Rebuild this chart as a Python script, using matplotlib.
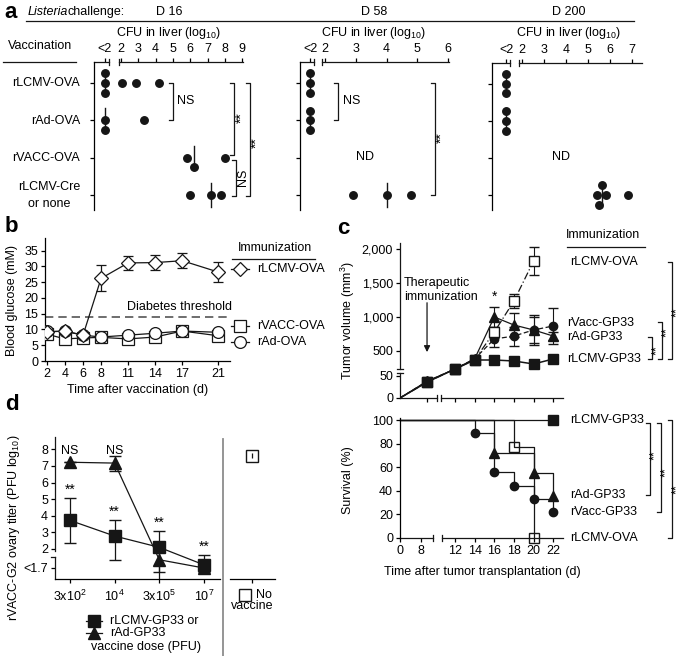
import numpy as np
import matplotlib
matplotlib.use("Agg")
import matplotlib.pyplot as plt
from matplotlib.lines import Line2D

plt.rcParams["font.family"] = ["Liberation Sans", "DejaVu Sans"]
plt.rcParams["font.size"] = 9
plt.rcParams["mathtext.fontset"] = "custom"
plt.rcParams["mathtext.rm"] = "Liberation Sans"
plt.rcParams["mathtext.it"] = "Liberation Sans:italic"
plt.rcParams["axes.linewidth"] = 0.9
plt.rcParams["xtick.major.width"] = 0.9
plt.rcParams["ytick.major.width"] = 0.9
plt.rcParams["xtick.major.size"] = 3
plt.rcParams["ytick.major.size"] = 3

# ---------------- data ----------------
# panel a: Listeria CFU in liver (log10); "<2" = below detection
a_rows = ["rLCMV-OVA", "rAd-OVA", "rVACC-OVA", "rLCMV-Cre\nor none"]
a_days = ["D 16", "D 58", "D 200"]
a_d16 = [["<2", "<2", "<2", 2.05, 2.85, 4.2], ["<2", "<2", 3.35], [5.8, 6.2, 8.0], [6.0, 7.2, 7.8]]
a_d58 = [["<2", "<2", "<2"], ["<2", "<2", "<2"], [], [2.9, 4.0, 4.8]]
a_d200 = [["<2", "<2", "<2"], ["<2", "<2", "<2"], [], [5.4, 5.5, 5.65, 5.8, 6.8]]

# panel b: blood glucose (mM)
b_days = [2, 4, 6, 8, 11, 14, 17, 21]
b_lcmv_ova = [9.2, 9.5, 8.2, 26.2, 31.1, 31.2, 31.8, 28.2]
b_lcmv_ova_err = [0.6, 0.6, 0.6, 4.1, 2.2, 2.5, 2.3, 3.2]
b_vacc_ova = [8.5, 7.0, 7.3, 7.5, 7.0, 7.6, 9.5, 8.0]
b_ad_ova = [9.4, 9.4, 8.2, 7.6, 8.2, 8.8, 9.5, 9.1]
b_threshold = 14

# panel c: tumor volume (mm3)
c_days = [0, 8, 12, 14, 16, 18, 20, 22]
c_lcmv_gp33 = [0, 36, 176, 338, 338, 320, 266, 356]
c_lcmv_gp33_err = [0, 8, 15, 15, 15, 15, 15, 15]
c_lcmv_ova = [0, 36, 176, 345, 779, 1235, 1823]
c_lcmv_ova_err = [0, 8, 15, 30, 70, 100, 200]
c_ad_gp33 = [0, 38, 176, 360, 1000, 882, 809, 720]
c_ad_gp33_err = [0, 8, 15, 30, 147, 177, 220, 60]
c_vacc_gp33 = [0, 38, 176, 360, 676, 720, 809, 868]
c_vacc_gp33_err = [0, 8, 15, 30, 110, 140, 190, 270]

# panel c: survival (%)
s_lcmv_gp33_days, s_lcmv_gp33 = [0, 22], [100, 100]
s_vacc_days, s_vacc = [0, 14, 16, 18, 20, 22], [100, 89, 56, 44, 33, 22]
s_ad_days, s_ad = [0, 16, 20, 22], [100, 72, 55, 36]
s_ova_days, s_ova = [0, 18, 20], [100, 77, 0]

# panel d: rVACC-G2 ovary titer (PFU log10)
d_doses = ["3x10$^2$", "10$^4$", "3x10$^5$", "10$^7$"]
d_lcmv = [3.72, 2.78, 2.1, 1.75]
d_lcmv_err = [1.33, 0.95, 1.0, 0.15]
d_ad = [7.22, 7.17, 1.83, 1.7]
d_ad_err = [0, 0.45, 0.23, 0]
d_none, d_none_err = 7.6, 0.15
d_sig_lcmv = ["**", "**", "**", "**"]
d_sig_ad = ["NS", "NS", "", ""]

K = "#161616"
STAR = 10
W, H = 685, 656
fig = plt.figure(figsize=(W / 100, H / 100), dpi=100)


def ax_box(l, t, r, b):
    return fig.add_axes([l / W, 1 - b / H, (r - l) / W, (b - t) / H])


def fline(xs, ys, **kw):
    kw.setdefault("color", K)
    kw.setdefault("lw", 0.9)
    fig.add_artist(Line2D(np.asarray(xs, float) / W, 1 - np.asarray(ys, float) / H, **kw))


def ftext(x, y, s, **kw):
    kw.setdefault("ha", "center")
    kw.setdefault("va", "center")
    fig.text(x / W, 1 - y / H, s, **kw)


def apx(ax, xs, ys, **kw):
    # line in pixels relative to the axes' lower-left corner
    bb = ax.get_position()
    kw.setdefault("color", K)
    kw.setdefault("lw", 0.9)
    ax.plot(np.asarray(xs, float) / (bb.width * W), np.asarray(ys, float) / (bb.height * H),
            transform=ax.transAxes, clip_on=False, **kw)


def bracket(x, y0, y1, arm=4):
    fline([x - arm, x, x, x - arm], [y0, y0, y1, y1])


def interp_scale(a, b):
    a, b = np.asarray(a, float), np.asarray(b, float)
    return (lambda v: np.interp(v, a, b), lambda p: np.interp(p, b, a))


# ---------------- panel a ----------------
ftext(11, 13, "a", fontsize=16, fontweight="bold")
ftext(28, 12, "Listeria", ha="left", style="italic")
ftext(68, 12, "challenge:", ha="left")
fline([26, 634], [21, 21])
ftext(40, 46, "Vaccination")
fline([3, 76], [62, 62])
for j, lab in enumerate(a_rows):
    yy = 83 + 37.5 * j
    ftext(80, yy, lab, ha="right", multialignment="center", linespacing=1.5)

a_cols = [
    # data, left, right, top, px of "2", px per unit, px of "<2", ticks, break gap, title x
    (a_d16, 94, 243, 62, 121, 17.3, 105, range(2, 10), (15, 25), 169),
    (a_d58, 300, 449, 62, 325, 30.75, 310, range(2, 7), (14, 22), 374),
    (a_d200, 492, 642, 63, 522, 22.0, 506, range(2, 8), (18, 27), 569),
]
for k, (data, l, r, t, p2, pu, plod, ticks, gap, cx) in enumerate(a_cols):
    ax = ax_box(l, t, r, 210)
    ax.set_xlim(2 - (p2 - l) / pu, 2 + (r - p2) / pu)
    ax.set_ylim(3.4, -0.56)
    lod = 2 - (p2 - plod) / pu
    for s in ["top", "right", "bottom"]:
        ax.spines[s].set_visible(False)
    ax.set_yticks(range(4))
    ax.set_yticklabels([])
    ax.tick_params(axis="x", top=True, bottom=False, labeltop=True, labelbottom=False, pad=2)
    ax.set_xticks([lod] + list(ticks))
    ax.set_xticklabels(["<2"] + [str(v) for v in ticks])
    w, h = r - l, 210 - t
    apx(ax, [0, gap[0]], [h, h])
    apx(ax, [gap[1], w], [h, h])
    apx(ax, [gap[0], gap[0]], [h - 3, h + 3])
    apx(ax, [gap[1], gap[1]], [h - 3, h + 3])
    ftext(cx, 12, a_days[k])
    ftext(cx, 33, "CFU in liver (log$_{10}$)")
    for j, vals in enumerate(data):
        xs = [lod if v == "<2" else v for v in vals]
        placed = []
        for x in xs:
            xp = ax.transData.transform((x, 0))[0]
            for slot in [0, 1, -1, 2, -2]:
                if all(abs(xp - q) >= 7.5 or slot != sq for q, sq in placed):
                    break
            placed.append((xp, slot))
            ax.plot(x, j + slot * 0.26, "o", ms=5.4, color=K, mec=K, clip_on=False, zorder=3)
        if xs:
            med = sorted(xs)[(len(xs) - 1) // 2]
            ax.plot([med, med], [j - 0.32, j + 0.32], color=K, lw=1, zorder=2)

ftext(365, 157, "ND")
ftext(561, 157, "ND")
# D16 statistics
bracket(173, 83, 120)
ftext(177, 101, "NS", ha="left")
bracket(234, 83, 155)
ftext(242, 118, "**", rotation=90, fontsize=STAR)
bracket(236, 160, 196)
ftext(243, 177, "NS", rotation=90)
bracket(250, 83, 196)
ftext(257, 143, "**", rotation=90, fontsize=STAR)
# D58 statistics
bracket(338, 83, 120)
ftext(343, 101, "NS", ha="left")
bracket(435, 83, 195)
ftext(442, 138, "**", rotation=90, fontsize=STAR)

# ---------------- panel b ----------------
ftext(11, 226, "b", fontsize=16, fontweight="bold")
axb = ax_box(45, 238, 230, 361)
axb.set_xlim(1.78, 22.3)
axb.set_ylim(0, 39)
for s in ["top", "right"]:
    axb.spines[s].set_visible(False)
axb.set_xticks(b_days)
axb.set_yticks(range(0, 36, 5))
axb.tick_params(pad=2)
axb.axhline(b_threshold, color="#555555", lw=1.2, ls=(0, (5, 3)), zorder=1)
axb.errorbar(b_days, b_vacc_ova, color=K, lw=0.9, marker="s", ms=8, mfc="white", mec=K,
             mew=0.9, zorder=3)
axb.errorbar(b_days, b_ad_ova, color=K, lw=0.9, marker="o", ms=8.5, mfc="white", mec=K,
             mew=0.9, zorder=4)
axb.errorbar(b_days, b_lcmv_ova, yerr=b_lcmv_ova_err, color=K, lw=0.9, marker="D", ms=7.5,
             mfc="white", mec=K, mew=0.9, capsize=3.5, elinewidth=0.9, zorder=5)
ftext(12, 300, "Blood glucose (mM)", rotation=90)
ftext(138, 390, "Time after vaccination (d)")
ftext(179, 307, "Diabetes threshold")
ftext(275, 248, "Immunization")
fline([232, 315], [259, 259])
for yy, mk, ms, lab in [(269, "D", 7.5, "rLCMV-OVA"), (326, "s", 8, "rVACC-OVA"),
                        (342, "o", 8.5, "rAd-OVA")]:
    fline([231, 249], [yy, yy])
    fline([240], [yy], marker=mk, ms=ms, mfc="white", mec=K, mew=0.9)
    ftext(257, yy, lab, ha="left")

# ---------------- panel c (tumor volume) ----------------
ftext(343, 228, "c", fontsize=16, fontweight="bold")
axc = ax_box(400, 243, 563, 398)
axc.set_xscale("function", functions=interp_scale([-10, 0, 8, 12, 22, 40],
                                                  [-26, 0, 27, 55, 153, 329.4]))
axc.set_yscale("function", functions=interp_scale([-1000, 0, 50, 500, 2000, 5000],
                                                  [-440, 0, 22, 47, 149, 353]))
axc.set_xlim(0, 23.0)
axc.set_ylim(0, 2088)
for s in axc.spines.values():
    s.set_visible(False)
axc.set_xticks([8, 12, 14, 16, 18, 20, 22])
axc.set_xticklabels([])
axc.set_yticks([0, 50, 500, 1000, 1500, 2000])
axc.set_yticklabels(["0", "50", "500", "1,000", "1,500", "2,000"])
axc.tick_params(pad=2)
apx(axc, [0, 0], [0, 25])
apx(axc, [0, 0], [29, 155])
apx(axc, [-3, 3], [25, 25])
apx(axc, [-3, 3], [29, 29])
apx(axc, [0, 37], [0, 0])
apx(axc, [41, 163], [0, 0])
apx(axc, [37, 37], [-3, 3])
apx(axc, [41, 41], [-3, 3])

axc.plot(c_days[:7], c_lcmv_ova, color=K, lw=0.9, ls=(0, (6, 2, 1, 2)), zorder=2)
axc.plot(c_days, c_ad_gp33, color=K, lw=0.9, zorder=2)
axc.plot(c_days, c_vacc_gp33, color=K, lw=0.9, ls=(0, (4, 2)), zorder=2)
axc.plot(c_days, c_lcmv_gp33, color=K, lw=1.1, zorder=2)
axc.errorbar(c_days[1:], c_vacc_gp33[1:], yerr=c_vacc_gp33_err[1:], fmt="o", ms=6, color=K,
             capsize=3.5, elinewidth=0.8, zorder=4)
axc.errorbar(c_days[1:], c_ad_gp33[1:], yerr=c_ad_gp33_err[1:], fmt="^", ms=6.5, color=K,
             capsize=3.5, elinewidth=0.8, zorder=4)
axc.errorbar(c_days[1:7], c_lcmv_ova[1:], yerr=c_lcmv_ova_err[1:], fmt="s", ms=7, color=K,
             mfc="white", mec=K, mew=1.0, capsize=3.5, elinewidth=0.8, zorder=5)
axc.errorbar(c_days[1:], c_lcmv_gp33[1:], yerr=c_lcmv_gp33_err[1:], fmt="s", ms=6.5, color=K,
             capsize=3.5, elinewidth=0.8, zorder=6)
axc.annotate("*", (16, c_ad_gp33[4] + c_ad_gp33_err[4]), xytext=(0, 2),
             textcoords="offset points", ha="center", va="bottom", fontsize=STAR)
axc.annotate("", xy=(8, 430), xytext=(8, 1250),
             arrowprops=dict(arrowstyle="-|>", color=K, lw=0.9, mutation_scale=9))
ftext(404, 283, "Therapeutic", ha="left")
ftext(404, 297, "immunization", ha="left")
ftext(348, 320, "Tumor volume (mm$^3$)", rotation=90)
ftext(603, 235, "Immunization")
fline([567, 645], [247, 247])
ftext(570, 262, "rLCMV-OVA", ha="left")
ftext(567, 323, "rVacc-GP33", ha="left")
ftext(567, 337, "rAd-GP33", ha="left")
ftext(567, 359, "rLCMV-GP33", ha="left")
bracket(652, 337, 359)
ftext(657, 350, "**", rotation=90, fontsize=9)
bracket(662, 322, 359)
ftext(667, 332, "**", rotation=90, fontsize=9)
bracket(672, 262, 359)
ftext(677, 312, "**", rotation=90, fontsize=9)

# ---------------- panel c (survival) ----------------
axs = ax_box(400, 418, 563, 538)
axs.set_xscale("function", functions=interp_scale([-10, 0, 8, 12, 22, 40],
                                                  [-26, 0, 21, 55, 153, 329.4]))
axs.set_xlim(0, 23.0)
axs.set_ylim(0, 101.7)
for s in ["top", "right", "bottom"]:
    axs.spines[s].set_visible(False)
axs.set_xticks([0, 8, 12, 14, 16, 18, 20, 22])
axs.set_yticks(range(0, 101, 20))
axs.tick_params(pad=2)
apx(axs, [0, 33], [0, 0])
apx(axs, [42, 163], [0, 0])
apx(axs, [33, 33], [-3, 3])
apx(axs, [42, 42], [-3, 3])
for dd, vv, mk, ms, face in [(s_lcmv_gp33_days, s_lcmv_gp33, "s", 6.5, K),
                              (s_vacc_days, s_vacc, "o", 6, K),
                              (s_ad_days, s_ad, "^", 6.5, K),
                              (s_ova_days, s_ova, "s", 7, "none")]:
    axs.step(dd, vv, where="post", color=K, lw=0.9, clip_on=False, zorder=2)
    axs.plot(dd[1:], vv[1:], mk, ms=ms, mfc=face, mec=K, mew=1.0, clip_on=False, zorder=4)
ftext(348, 480, "Survival (%)", rotation=90)
ftext(384, 572, "Time after tumor transplantation (d)", ha="left")
ftext(570, 420, "rLCMV-GP33", ha="left")
ftext(570, 495, "rAd-GP33", ha="left")
ftext(570, 512, "rVacc-GP33", ha="left")
ftext(570, 538, "rLCMV-OVA", ha="left")
bracket(650, 423, 495)
ftext(655, 455, "**", rotation=90, fontsize=9)
bracket(661, 423, 512)
ftext(666, 472, "**", rotation=90, fontsize=9)
bracket(672, 420, 538)
ftext(677, 489, "**", rotation=90, fontsize=9)

# ---------------- panel d ----------------
ftext(12, 405, "d", fontsize=16, fontweight="bold")
d_scale = interp_scale([0, 1.4, 1.7, 2.0, 8.5, 20], [-14, 0, 11, 30, 138, 329])
axd = ax_box(55, 437, 220, 579)
axd.set_yscale("function", functions=d_scale)
axd.set_ylim(1.4, 8.74)
axd.set_xlim(-0.336, 3.36)
for s in ["top", "right", "left"]:
    axd.spines[s].set_visible(False)
axd.set_yticks([1.7, 2, 3, 4, 5, 6, 7, 8])
axd.set_yticklabels(["<1.7", "2", "3", "4", "5", "6", "7", "8"])
axd.set_xticks(range(len(d_doses)))
axd.set_xticklabels(d_doses)
axd.tick_params(axis="x", pad=4)
axd.tick_params(axis="y", pad=2)
apx(axd, [0, 0], [0, 22])
apx(axd, [0, 0], [28, 142])
apx(axd, [-4, 0], [22, 22])
xd = np.arange(len(d_doses))
axd.errorbar(xd, d_ad, yerr=d_ad_err, color=K, lw=0.9, marker="^", ms=9, capsize=4,
             elinewidth=0.9, zorder=3)
axd.errorbar(xd, d_lcmv, yerr=d_lcmv_err, color=K, lw=0.9, marker="s", ms=9, capsize=4,
             elinewidth=0.9, zorder=4)
for i in xd:
    if d_sig_lcmv[i]:
        axd.annotate(d_sig_lcmv[i], (i, d_lcmv[i] + d_lcmv_err[i]), xytext=(0, 1),
                     textcoords="offset points", ha="center", va="bottom", fontsize=STAR)
    if d_sig_ad[i]:
        axd.text(i, 7.9, d_sig_ad[i], ha="center", va="center")
ftext(14, 528, "rVACC-G2 ovary titer (PFU log$_{10}$)", rotation=90)

axn = ax_box(230, 437, 275, 579)
axn.set_yscale("function", functions=d_scale)
axn.set_ylim(1.4, 8.74)
axn.set_xlim(-1.0, 1.04)
for s in ["top", "right", "left"]:
    axn.spines[s].set_visible(False)
axn.set_yticks([])
axn.set_xticks([0])
axn.set_xticklabels([])
axn.errorbar([0], [d_none], yerr=[d_none_err], fmt="s", ms=9, mfc="none", mec=K, mew=1.0,
             color=K, elinewidth=0.9, capsize=0)
fline([223, 223], [439, 656], color="#8c8c8c", lw=1.3)

fline([86, 102], [621, 621])
fline([94], [621], marker="s", ms=8, color=K)
ftext(110, 621, "rLCMV-GP33 or", ha="left")
fline([86, 102], [633, 633])
fline([94], [633], marker="^", ms=8, color=K)
ftext(110, 633, "rAd-GP33", ha="left")
ftext(146, 647, "vaccine dose (PFU)")
fline([245], [595], marker="s", ms=8, mfc="white", mec=K, mew=1.0)
ftext(256, 595, "No", ha="left")
ftext(252, 606, "vaccine")

fig.savefig("out.png", dpi=100)
